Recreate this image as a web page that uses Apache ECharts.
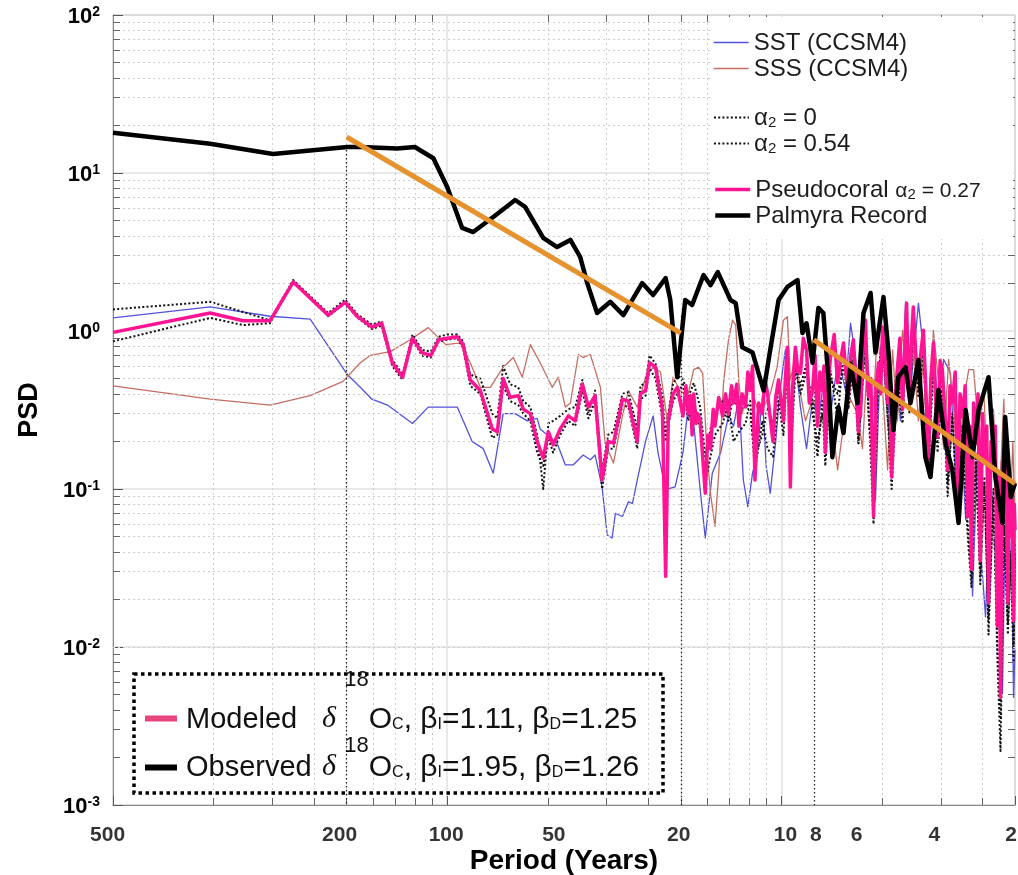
<!DOCTYPE html>
<html>
<head>
<meta charset="utf-8">
<title>PSD of modeled and observed coral records</title>
<script src="https://cdn.jsdelivr.net/npm/echarts@6/dist/echarts.min.js"></script>
<style>
  html, body { margin: 0; padding: 0; background: #ffffff; }
  #chart { width: 1018px; height: 875px; }
</style>
</head>
<body>
<div id="chart"></div>
<script>
// ---- axis ranges and tick labels ----
const periodRange = [2, 1000];          // years (log axis, drawn right-to-left)
const psdRange = [0.001, 100];          // PSD (log axis)
const periodTicks = [500, 200, 100, 50, 20, 10, 8, 6, 4, 2];
const periodTickText = ['500', '200', '100', '50', '20', '10', '8', '6', '4', '2'];

// ---- spectra: [period (years), PSD] ----
const sstSpectrum = [
  [1000,1.21],[512,1.42],[339,1.24],[257,1.19],[199,0.53],[182,0.44],[168,0.37],[151,0.34],[127,0.26],[114,0.33],
  [93.3,0.33],[84.2,0.20],[78.0,0.18],[72.8,0.126],[68.0,0.30],[62.6,0.30],[57.6,0.27],[53.8,0.28],[52.7,0.24],[46.9,0.195],
  [44.3,0.142],[42.0,0.142],[39.2,0.164],[37.3,0.153],[36.1,0.164],[34.4,0.103],[33.2,0.051],[32.1,0.049],[31.4,0.070],[29.9,0.067],
  [28.7,0.083],[27.9,0.081],[27.0,0.114],[25.5,0.20],[24.2,0.29],[23.4,0.17],[22.2,0.099],[20.8,0.103],[19.7,0.17],[19.1,0.30],
  [18.3,0.26],[17.5,0.099],[16.9,0.049],[16.1,0.126],[15.2,0.17],[14.4,0.29],[13.9,0.25],[13.4,0.385],[13.0,0.114],[12.6,0.077],
  [12.2,0.126],[11.8,0.17],[11.4,0.385],[11.1,0.138],[10.8,0.094],[10.4,0.20],[10.1,0.42],[9.73,0.76],[9.4,0.25],[9.08,0.66],
  [8.77,0.33],[8.41,0.18],[8.07,0.37],[7.75,0.27],[7.49,0.47],[7.13,0.30],[6.75,0.68],[6.43,0.42],[6.21,1.12],[6.0,0.68],
  [5.80,0.27],[5.60,1.01],[5.41,0.37],[5.23,0.085],[5.05,0.76],[4.88,1.17],[4.72,0.153],[4.56,0.49],[4.40,0.27],[4.25,1.53],
  [4.11,0.42],[3.89,1.50],[3.76,0.76],[3.63,0.20],[3.51,0.88],[3.39,0.27],[3.27,0.66],[3.12,0.54],[3.01,0.114],[2.91,0.27],
  [2.81,0.064],[2.72,0.20],[2.68,0.021],[2.59,0.176],[2.52,0.035],[2.45,0.0155],[2.37,0.132],[2.29,0.035],[2.21,0.0096],[2.18,0.0051],
  [2.14,0.064],[2.09,0.020],[2.05,0.048],[2.02,0.0048],[2.0,0.0096]
];

const sssSpectrum = [
  [1000,0.45],[512,0.37],[339,0.34],[257,0.39],[205,0.48],[182,0.63],[170,0.70],[148,0.74],[129,0.88],[114,1.05],
  [101,0.82],[91.4,0.84],[85.3,0.63],[79.6,0.44],[74.3,0.44],[68.0,0.59],[63.4,0.68],[59.6,0.51],[56.4,0.82],[52.7,0.63],
  [48.5,0.44],[46.5,0.51],[44.3,0.33],[42.8,0.35],[40.5,0.71],[39.2,0.68],[37.3,0.71],[34.8,0.44],[33.7,0.195],[31.8,0.146],
  [29.9,0.29],[28.7,0.42],[27.0,0.33],[25.5,0.51],[24.2,0.59],[23.0,0.55],[21.9,0.26],[21.1,0.51],[20.1,0.42],[19.1,0.385],
  [18.3,0.57],[17.7,0.59],[17.2,0.54],[16.7,0.17],[16.3,0.094],[15.8,0.058],[15.4,0.126],[14.9,0.47],[14.4,0.88],[14.0,1.17],
  [13.7,1.09],[13.4,0.47],[13.1,0.30],[12.4,0.47],[11.7,0.30],[11.3,0.33],[10.8,0.40],[10.3,0.59],[9.86,1.17],[9.6,1.23],
  [9.4,0.49],[9.08,0.68],[8.77,0.40],[8.47,0.27],[8.07,0.37],[7.64,0.27],[7.28,0.33],[6.99,0.23],[6.79,0.132],[6.52,0.25],
  [6.21,0.37],[5.92,0.30],[5.72,0.18],[5.53,0.66],[5.34,0.27],[5.16,1.01],[4.98,0.42],[4.81,0.132],[4.65,0.76],[4.50,0.27],
  [4.34,1.01],[4.19,0.42],[4.05,0.88],[3.89,0.27],[3.76,0.66],[3.63,0.132],[3.51,1.01],[3.39,0.49],[3.27,0.18],[3.16,0.66],
  [3.05,0.32],[2.95,0.114],[2.85,0.37],[2.75,0.57],[2.66,0.57],[2.57,0.24],[2.48,0.42],[2.40,0.085],[2.32,0.32],[2.24,0.064],
  [2.16,0.37],[2.09,0.035],[2.03,0.20],[2.0,0.064]
];

const alphaZeroSpectrum = [
  [1000,1.37],[512,1.53],[339,1.17],[289,2.10],[227,1.30],[202,1.58],[186,1.28],[168,1.10],[157,1.15],[146,0.66],
  [136,0.53],[127,0.95],[119,0.76],[112,0.74],[106,0.92],[100,0.95],[93.3,0.95],[89.6,0.86],[85.3,0.53],[79.6,0.50],
  [73.3,0.30],[70.8,0.28],[68.0,0.60],[64.8,0.46],[61.3,0.44],[59.2,0.36],[56.4,0.33],[53.8,0.22],[51.6,0.10],[49.8,0.26],
  [48.2,0.27],[45.9,0.29],[43.4,0.32],[41.4,0.33],[39.4,0.49],[37.8,0.30],[36.1,0.42],[34.4,0.13],[33.0,0.22],[31.8,0.23],
  [29.9,0.40],[28.7,0.41],[27.0,0.24],[26.4,0.45],[25.5,0.47],[24.8,0.70],[23.8,0.62],[22.7,0.38],[22.2,0.22],[21.8,0.30],
  [21.1,0.46],[20.5,0.52],[19.7,0.50],[19.0,0.38],[18.3,0.47],[17.5,0.33],[16.9,0.16],[16.3,0.24],[15.8,0.30],[15.0,0.36],
  [14.4,0.27],[13.9,0.40],[13.4,0.30],[12.8,0.36],[12.4,0.30],[12.0,0.16],[11.4,0.22],[11.0,0.33],[10.6,0.26],[10.2,0.42],
  [9.86,0.30],[9.6,0.70],[9.4,0.17],[9.08,0.66],[8.77,0.45],[8.41,0.62],[8.07,0.30],[7.80,0.20],[7.54,0.30],[7.39,0.22],
  [7.13,0.56],[6.79,0.28],[6.52,0.72],[6.30,0.35],[6.09,0.80],[5.88,0.20],[5.60,0.95],[5.49,0.30],[5.30,0.12],[5.12,0.55],
  [4.98,0.90],[4.81,0.28],[4.68,0.16],[4.50,0.50],[4.34,0.30],[4.22,1.30],[4.14,0.36],[4.03,1.20],[3.89,0.42],[3.76,0.85],
  [3.63,0.13],[3.51,0.70],[3.41,0.20],[3.30,0.50],[3.18,0.09],[3.08,0.30],[2.97,0.075],[2.87,0.25],[2.77,0.06],[2.70,0.028],
  [2.62,0.17],[2.54,0.025],[2.47,0.12],[2.40,0.012],[2.32,0.10],[2.26,0.009],[2.21,0.0022],[2.16,0.06],[2.10,0.012],[2.06,0.04],
  [2.02,0.008],[2.0,0.04]
];

const alphaHighSpectrum = [
  [1000,0.86],[512,1.21],[408,1.09],[339,1.12],[289,2.05],[227,1.24],[202,1.50],[186,1.22],[168,1.03],[157,1.08],
  [146,0.60],[136,0.49],[127,0.88],[119,0.70],[112,0.68],[106,0.86],[100,0.88],[93.3,0.90],[89.6,0.78],[85.3,0.45],
  [79.6,0.40],[73.3,0.21],[70.8,0.22],[68.0,0.45],[64.8,0.36],[61.3,0.34],[59.2,0.30],[56.4,0.27],[53.8,0.17],[51.6,0.14],
  [49.8,0.21],[48.2,0.17],[45.9,0.22],[43.4,0.27],[41.4,0.25],[39.4,0.42],[37.8,0.28],[36.1,0.36],[34.4,0.10],[33.0,0.18],
  [31.8,0.18],[29.9,0.34],[28.7,0.33],[27.0,0.18],[26.4,0.37],[25.5,0.39],[24.8,0.58],[23.8,0.50],[22.7,0.28],[22.2,0.20],
  [21.8,0.25],[21.1,0.36],[20.5,0.40],[19.7,0.46],[19.0,0.27],[18.3,0.36],[17.5,0.24],[16.9,0.11],[16.3,0.16],[15.8,0.22],
  [15.0,0.26],[14.4,0.34],[13.9,0.20],[13.4,0.23],[12.8,0.26],[12.4,0.36],[12.0,0.13],[11.4,0.27],[11.0,0.18],[10.6,0.16],
  [10.2,0.36],[9.86,0.22],[9.6,0.60],[9.4,0.14],[9.08,0.58],[8.77,0.40],[8.41,0.55],[8.07,0.36],[7.80,0.16],[7.54,0.36],
  [7.39,0.14],[7.13,0.50],[6.79,0.40],[6.52,0.60],[6.30,0.32],[6.09,0.66],[5.88,0.19],[5.60,0.88],[5.49,0.34],[5.30,0.06],
  [5.12,0.50],[4.98,0.80],[4.81,0.30],[4.68,0.10],[4.50,0.46],[4.34,0.26],[4.22,1.10],[4.14,0.30],[4.03,1.05],[3.89,0.38],
  [3.76,0.75],[3.63,0.14],[3.51,0.62],[3.41,0.17],[3.30,0.44],[3.18,0.11],[3.08,0.28],[2.97,0.07],[2.87,0.22],[2.77,0.05],
  [2.70,0.024],[2.62,0.15],[2.54,0.028],[2.47,0.11],[2.40,0.015],[2.32,0.09],[2.26,0.011],[2.21,0.0035],[2.16,0.065],[2.10,0.014],
  [2.06,0.035],[2.02,0.010],[2.0,0.045]
];

const pseudocoralSpectrum = [
  [1000,0.98],[512,1.30],[408,1.16],[339,1.16],[289,2.04],[227,1.26],[202,1.52],[186,1.24],[168,1.06],[157,1.12],
  [146,0.63],[136,0.51],[127,0.90],[119,0.73],[112,0.70],[106,0.88],[100,0.90],[93.3,0.92],[89.6,0.82],[85.3,0.49],
  [79.6,0.42],[73.3,0.24],[70.8,0.23],[68.0,0.50],[64.8,0.38],[61.3,0.39],[59.2,0.32],[56.4,0.30],[53.8,0.20],[51.6,0.157],
  [49.8,0.23],[48.2,0.19],[45.9,0.24],[43.4,0.29],[41.4,0.27],[39.4,0.46],[37.8,0.33],[36.1,0.39],[34.4,0.114],[33.0,0.20],
  [31.8,0.195],[29.9,0.37],[28.7,0.36],[27.0,0.20],[26.4,0.40],[25.5,0.42],[24.8,0.63],[23.8,0.59],[22.7,0.32],[22.2,0.028],
  [21.8,0.27],[21.1,0.40],[20.5,0.44],[19.7,0.29],[19.3,0.45],[19.0,0.30],[18.7,0.39],[18.5,0.22],[18.3,0.40],[18.0,0.26],
  [17.8,0.30],[17.5,0.27],[17.2,0.16],[16.9,0.094],[16.6,0.22],[16.3,0.18],[16.0,0.32],[15.8,0.25],[15.4,0.38],[15.0,0.29],
  [14.7,0.40],[14.4,0.30],[14.1,0.45],[13.9,0.35],[13.6,0.46],[13.4,0.25],[13.1,0.40],[12.8,0.33],[12.6,0.55],[12.4,0.42],
  [12.2,0.60],[12.0,0.114],[11.7,0.35],[11.4,0.30],[11.2,0.50],[11.0,0.40],[10.8,0.28],[10.6,0.20],[10.4,0.38],[10.2,0.49],
  [10.0,0.35],[9.86,0.27],[9.73,0.50],[9.6,0.79],[9.5,0.40],[9.4,0.103],[9.25,0.45],[9.08,0.79],[8.92,0.55],[8.77,0.54],
  [8.6,0.90],[8.41,0.76],[8.25,0.35],[8.07,0.42],[7.93,0.70],[7.80,0.25],[7.67,0.55],[7.54,0.42],[7.46,0.60],[7.39,0.17],
  [7.26,0.45],[7.13,0.68],[6.95,0.95],[6.79,0.47],[6.65,0.65],[6.52,0.84],[6.41,0.55],[6.30,0.385],[6.2,0.70],[6.09,0.88],
  [5.98,0.45],[5.88,0.23],[5.84,0.55],
  [5.80,0.29],[5.70,0.80],[5.60,1.17],[5.55,0.60],[5.49,0.385],[5.40,0.50],[5.30,0.067],[5.21,0.45],[5.12,0.63],[5.05,0.40],
  [4.98,1.06],[4.90,0.70],[4.81,0.35],[4.74,0.60],[4.68,0.119],[4.59,0.30],[4.50,0.57],[4.42,0.90],[4.34,0.32],[4.28,0.70],
  [4.22,1.50],[4.18,0.60],[4.14,0.385],[4.08,0.90],[4.03,1.42],[3.96,0.70],[3.89,0.49],[3.82,0.75],[3.76,1.01],[3.70,0.45],
  [3.63,0.159],[3.57,0.50],[3.51,0.84],[3.46,0.40],[3.41,0.213],[3.35,0.65],[3.30,0.57],[3.24,0.30],[3.18,0.132],[3.13,0.45],
  [3.08,0.35],[3.02,0.55],[2.97,0.089],[2.92,0.40],[2.87,0.286],[2.82,0.45],[2.77,0.067],[2.73,0.25],[2.70,0.031],[2.66,0.35],
  [2.62,0.195],[2.58,0.40],[2.54,0.035],[2.50,0.30],[2.47,0.146],[2.43,0.25],[2.40,0.019],[2.36,0.20],[2.32,0.132],[2.29,0.25],
  [2.26,0.0137],[2.23,0.12],[2.21,0.0048],[2.18,0.15],[2.16,0.082],[2.13,0.20],[2.10,0.019],[2.08,0.12],[2.06,0.050],[2.04,0.10],
  [2.02,0.0146],[2.01,0.08],[2.0,0.055]
];

const palmyraSpectrum = [
  [1000,18.0],[512,15.3],[332,13.2],[199,14.6],[182,14.6],[141,14.3],[125,14.6],[110,12.4],[100,8.15],[90.2,4.49],
  [83.6,4.23],[72.8,5.27],[62.6,6.75],[58.4,6.09],[51.6,3.88],[46.9,3.40],[42.8,3.77],[40.0,2.94],[38.1,2.01],[35.6,1.30],
  [32.5,1.53],[29.7,1.26],[28.3,1.50],[26.1,2.01],[24.2,1.69],[22.2,2.16],[21.5,1.57],[20.5,0.51],[19.4,1.57],[18.5,1.46],
  [17.1,2.26],[16.3,1.95],[15.5,2.36],[14.2,1.57],[13.7,1.50],[13.1,0.79],[12.2,0.73],[11.3,0.42],[10.8,0.76],[10.2,1.57],
  [9.6,1.90],[8.95,2.10],[8.65,0.97],[8.41,1.12],[8.07,0.63],[7.75,1.40],[7.49,1.30],[7.23,0.49],[7.04,0.159],[6.75,0.33],
  [6.52,0.226],[6.21,0.62],[5.92,0.35],[5.68,1.30],[5.41,1.74],[5.23,0.73],[4.95,1.64],[4.78,0.73],[4.62,0.236],[4.47,0.51],
  [4.25,0.59],[4.11,0.35],[3.89,0.655],[3.71,0.159],[3.58,0.119],[3.39,0.423],[3.23,0.195],[3.08,0.132],[2.95,0.061],[2.81,0.316],
  [2.68,0.159],[2.57,0.316],[2.40,0.51],[2.29,0.119],[2.18,0.061],[2.14,0.286],[2.06,0.089],[2.0,0.109]
];

// power-law fits drawn over the observed record
const fitLowFreq = [[200, 16.9], [20, 0.97]];
const fitHighFreq = [[8, 0.88], [2, 0.108]];

// band boundaries (years) and the PSD level each dotted marker starts from
const bandPeriods = [200, 20, 8];
const bandTopPsd = [14.8, 1.25, 0.93];

// ---- styling ----
const BOLD = "'Liberation Sans', Arial, Helvetica, sans-serif";
const SANS = "'Liberation Sans', Arial, Helvetica, sans-serif";
const SERIF = "'Liberation Serif', 'DejaVu Serif', serif";
const COLORS = {
  sst: '#5252dc', sss: '#c46e62', dotted: '#111111', pseudo: '#ff1493',
  palmyra: '#000000', fit: '#e5922f', grid: '#cfcfcf', gridMajor: '#e0e0e0', axis: '#8a8a8a'
};
const WIDTHS = { sst: 1.3, sss: 1.3, dotted: 2, pseudo: 3.5, palmyra: 4.5, fit: 5 };
const DOTS = [2, 2.2];
const tickLabelShift = [-106, -7, -1, 6, -2, 4, 2, 1, 20, -4];

// layout of the plotting area (px)
const GRID = { left: 113, top: 15, right: 3, bottom: 70 };
const plotW = 1018 - GRID.left - GRID.right;
const plotH = 875 - GRID.top - GRID.bottom;
const pxPerDecadeX = plotW / Math.log10(periodRange[1] / periodRange[0]);
const pxPerDecadeY = plotH / Math.log10(psdRange[1] / psdRange[0]);
const TICK = 7;

// minor grid positions: frequency multiples 2..9 per decade, shown as periods
const minorPeriods = [];
[0.001, 0.01, 0.1].forEach(d => {
  for (let m = 2; m <= 9; m++) {
    const f = d * m;
    if (f < 0.5 - 1e-9) minorPeriods.push(1 / f);
  }
});
const minorPsd = [];
for (let e = -3; e <= 1; e++) {
  for (let m = 2; m <= 9; m++) minorPsd.push(m * Math.pow(10, e));
}

const xTickSpan = Math.pow(10, TICK / pxPerDecadeX);
const yTickSpan = Math.pow(10, TICK / pxPerDecadeY);
const minorTickSegments = [];
minorPsd.forEach(v => {
  minorTickSegments.push([{ coord: [periodRange[1], v] }, { coord: [periodRange[1] / xTickSpan, v] }]);
  minorTickSegments.push([{ coord: [periodRange[0], v] }, { coord: [periodRange[0] * xTickSpan, v] }]);
});
minorPeriods.forEach(p => {
  minorTickSegments.push([{ coord: [p, psdRange[0]] }, { coord: [p, psdRange[0] * yTickSpan] }]);
  minorTickSegments.push([{ coord: [p, psdRange[1]] }, { coord: [p, psdRange[1] / yTickSpan] }]);
});

function lineSeries(name, data, color, width, z, type) {
  return {
    name, type: 'line', data, z,
    symbol: 'none', showSymbol: false, silent: true, animation: false,
    lineStyle: { color, width, type: type || 'solid', join: 'round', cap: 'butt' },
    itemStyle: { color },
    emphasis: { disabled: true }
  };
}

const series = [
  // minor grid and minor ticks
  {
    type: 'line', data: [], z: 1, silent: true, animation: false,
    markLine: {
      silent: true, symbol: ['none', 'none'], label: { show: false }, animation: false,
      lineStyle: { color: COLORS.grid, width: 1, type: [2, 3] },
      emphasis: { disabled: true },
      data: minorPeriods.map(p => ({ xAxis: p })).concat(minorPsd.map(v => ({ yAxis: v })))
    }
  },
  {
    type: 'line', data: [], z: 2, silent: true, animation: false,
    markLine: {
      silent: true, symbol: ['none', 'none'], label: { show: false }, animation: false,
      lineStyle: { color: '#666666', width: 1, type: 'solid' },
      emphasis: { disabled: true },
      data: minorTickSegments
    }
  },
  lineSeries('SST (CCSM4)', sstSpectrum, COLORS.sst, WIDTHS.sst, 3),
  lineSeries('SSS (CCSM4)', sssSpectrum, COLORS.sss, WIDTHS.sss, 3),
  lineSeries('α2 = 0', alphaZeroSpectrum, COLORS.dotted, WIDTHS.dotted, 4, DOTS),
  lineSeries('α2 = 0.54', alphaHighSpectrum, COLORS.dotted, WIDTHS.dotted, 4, DOTS),
  lineSeries('Pseudocoral α2 = 0.27', pseudocoralSpectrum, COLORS.pseudo, WIDTHS.pseudo, 5),
  lineSeries('Palmyra Record', palmyraSpectrum, COLORS.palmyra, WIDTHS.palmyra, 6),
  // band boundaries
  {
    type: 'line', data: [], z: 4, silent: true, animation: false,
    markLine: {
      silent: true, symbol: ['none', 'none'], label: { show: false }, animation: false,
      lineStyle: { color: '#222222', width: 1.3, type: [1.5, 2.5] },
      emphasis: { disabled: true },
      data: bandPeriods.map((p, i) => [{ coord: [p, bandTopPsd[i]] }, { coord: [p, psdRange[0]] }])
    }
  },
  lineSeries('fit-low', fitLowFreq, COLORS.fit, WIDTHS.fit, 8),
  lineSeries('fit-high', fitHighFreq, COLORS.fit, WIDTHS.fit, 8),
  // period tick labels along the bottom edge
  {
    type: 'scatter', silent: true, animation: false, z: 9, clip: false,
    symbolSize: 1, itemStyle: { color: 'rgba(0,0,0,0)' },
    data: periodTicks.map((p, i) => ({ value: [p, psdRange[0]], label: { offset: [tickLabelShift[i], 2] } })),
    label: {
      show: true, position: 'bottom', distance: 17,
      formatter: p => periodTickText[p.dataIndex],
      fontSize: 21, fontWeight: 'bold', fontFamily: BOLD, color: '#000000'
    },
    emphasis: { disabled: true }
  }
];

const legendText = { fontSize: 24, fontFamily: SANS, color: '#1c1c1c', lineHeight: 25 };
const legendRich = {
  n: { fontSize: 24, fontFamily: SANS, color: '#1c1c1c', lineHeight: 25, verticalAlign: 'bottom' },
  a: { fontSize: 24, fontFamily: SANS, color: '#1c1c1c', lineHeight: 25, verticalAlign: 'bottom' },
  g: { fontSize: 21, fontFamily: SANS, color: '#1c1c1c', lineHeight: 25, verticalAlign: 'bottom' },
  s: { fontSize: 15, fontFamily: SANS, color: '#1c1c1c', lineHeight: 15, verticalAlign: 'bottom' }
};
function legendLabel(name) {
  if (name === 'α2 = 0') return '{a|α}{s|2}{a| = 0}';
  if (name === 'α2 = 0.54') return '{a|α}{s|2}{a| = 0.54}';
  if (name === 'Pseudocoral α2 = 0.27') return '{n|Pseudocoral }{g|α}{s|2}{g| = 0.27}';
  return '{n|' + name + '}';
}
const legendWidth = {
  'SST (CCSM4)': WIDTHS.sst, 'SSS (CCSM4)': WIDTHS.sss,
  'α2 = 0': WIDTHS.dotted, 'α2 = 0.54': WIDTHS.dotted,
  'Pseudocoral α2 = 0.27': WIDTHS.pseudo, 'Palmyra Record': WIDTHS.palmyra
};
function legendBlock(names, top) {
  return {
    data: names.map(n => ({ name: n, lineStyle: { width: legendWidth[n] } })),
    orient: 'vertical', left: 713, top, padding: 0,
    itemWidth: 35, itemHeight: 14, itemGap: 1, selectedMode: false, z: 10,
    itemStyle: { opacity: 0, borderWidth: 0 },
    textStyle: Object.assign({}, legendText, { rich: legendRich }),
    formatter: legendLabel
  };
}

// bottom-left key (rich text with super/subscripts)
const keyBase = { fontSize: 30, fontFamily: SANS, fill: '#111111', lineHeight: 30, verticalAlign: 'bottom' };
function keyRich(supRaise) {
  return {
    n: keyBase,
    m: Object.assign({}, keyBase, { fontSize: 29 }),
    d: Object.assign({}, keyBase, { fontFamily: SERIF, fontStyle: 'italic' }),
    sup: { fontSize: 22, fontFamily: SANS, fill: '#111111', lineHeight: 22, verticalAlign: 'bottom', padding: [0, 0, supRaise, 0] },
    sub: { fontSize: 16, fontFamily: SANS, fill: '#111111', lineHeight: 16, verticalAlign: 'bottom', padding: [0, 0, 2, 0] }
  };
}
const keyRows = [
  { name: 'Modeled', color: '#e8457e', betaI: '1.11', betaD: '1.25', baseline: 730, icon: 718.5, supRaise: 44 },
  { name: 'Observed', color: '#000000', betaI: '1.95', betaD: '1.26', baseline: 778, icon: 767.5, supRaise: 26 }
];
const keyGraphics = [
  {
    type: 'rect', z: 20, silent: true,
    shape: { x: 134, y: 674, width: 529, height: 119 },
    style: { fill: 'none', stroke: '#000000', lineWidth: 3.5, lineDash: [3.5, 3.5] }
  }
];
keyRows.forEach(r => {
  keyGraphics.push({
    type: 'line', z: 20, silent: true,
    shape: { x1: 145, y1: r.icon, x2: 177, y2: r.icon },
    style: { stroke: r.color, lineWidth: 6 }
  });
  keyGraphics.push({
    type: 'text', z: 20, silent: true, x: 186, y: r.baseline + 4.5,
    style: { text: '{m|' + r.name + '}', rich: keyRich(r.supRaise), align: 'left', verticalAlign: 'bottom' }
  });
  keyGraphics.push({
    type: 'text', z: 20, silent: true, x: 322, y: r.baseline + 4.5,
    style: {
      text: '{d|δ}{n| }{sup|18}{n|O}{sub|C}{n|, β}{sub|I}{n|=' + r.betaI + ', β}{sub|D}{n|=' + r.betaD + '}',
      rich: keyRich(r.supRaise), align: 'left', verticalAlign: 'bottom'
    }
  });
});

const option = {
  backgroundColor: '#ffffff',
  animation: false,
  grid: {
    left: GRID.left, top: GRID.top, right: GRID.right, bottom: GRID.bottom,
    show: true, borderColor: '#9a9a9a', borderWidth: 1,
    containLabel: false, outerBoundsMode: 'none'
  },
  xAxis: {
    type: 'log', logBase: 10, min: periodRange[0], max: periodRange[1], inverse: true,
    name: 'Period (Years)', nameLocation: 'middle', nameGap: 42,
    nameTextStyle: { fontSize: 28, fontWeight: 'bold', fontFamily: BOLD, color: '#000000' },
    axisLine: { show: true, lineStyle: { color: COLORS.axis, width: 1 } },
    axisTick: { show: true, inside: true, length: 9, lineStyle: { color: '#555555' } },
    axisLabel: { show: false },
    splitLine: { show: true, lineStyle: { color: COLORS.gridMajor, width: 1.5 } }
  },
  yAxis: {
    type: 'log', logBase: 10, min: psdRange[0], max: psdRange[1],
    name: 'PSD', nameLocation: 'middle', nameGap: 70, nameRotate: 90,
    nameTextStyle: { fontSize: 27, fontWeight: 'bold', fontFamily: BOLD, color: '#000000' },
    axisLine: { show: true, lineStyle: { color: COLORS.axis, width: 1 } },
    axisTick: { show: true, inside: true, length: 10, lineStyle: { color: '#555555' } },
    axisLabel: {
      margin: 13,
      formatter: v => '{b|10}{s|' + Math.round(Math.log10(v)) + '}',
      rich: {
        b: { fontSize: 22, fontWeight: 'bold', fontFamily: BOLD, color: '#000000', lineHeight: 26, verticalAlign: 'bottom' },
        s: { fontSize: 14, fontWeight: 'bold', fontFamily: BOLD, color: '#000000', lineHeight: 14, verticalAlign: 'bottom', padding: [0, 0, 9, 0] }
      }
    },
    splitLine: { show: true, lineStyle: { color: COLORS.gridMajor, width: 1.5 } }
  },
  legend: [
    legendBlock(['SST (CCSM4)', 'SSS (CCSM4)'], 30),
    legendBlock(['α2 = 0', 'α2 = 0.54'], 105),
    legendBlock(['Pseudocoral α2 = 0.27', 'Palmyra Record'], 177)
  ],
  graphic: [
    {
      type: 'rect', z: 7, silent: true,
      shape: { x: 710, y: 17, width: 303, height: 222 },
      style: { fill: '#ffffff' }
    }
  ].concat(keyGraphics),
  series
};

const chart = echarts.init(document.getElementById('chart'), null, { renderer: 'canvas', width: 1018, height: 875 });
chart.setOption(option);
</script>
</body>
</html>
